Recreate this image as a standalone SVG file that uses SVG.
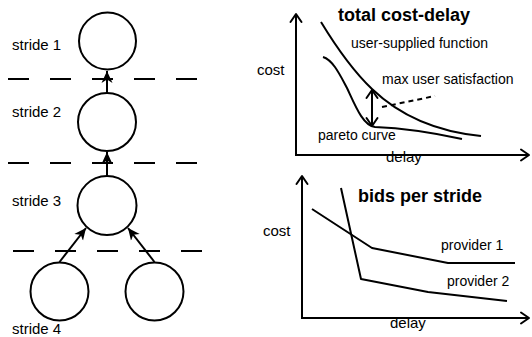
<svg xmlns="http://www.w3.org/2000/svg" width="532" height="337" viewBox="0 0 532 337">
  <style>
    text { font-family: "Liberation Sans", Arial, sans-serif; fill: #000; }
    .lbl { font-size: 15px; }
    .small { font-size: 14px; }
    .title { font-size: 18px; font-weight: bold; }
    .node { fill: #fff; stroke: #000; stroke-width: 2; }
    .edge { fill: none; stroke: #000; stroke-width: 2; }
    .divider { fill: none; stroke: #000; stroke-width: 2; stroke-dasharray: 21 21; }
    .axis { fill: none; stroke: #000; stroke-width: 2; }
    .curve { fill: none; stroke: #000; stroke-width: 2; stroke-linejoin: round; }
    .open { fill: none; stroke: #000; stroke-width: 2; stroke-linecap: round; stroke-linejoin: round; }
  </style>
  <defs>
    <marker id="solid" viewBox="-12 -6 13 12" refX="0" refY="0" markerWidth="13" markerHeight="12" markerUnits="userSpaceOnUse" orient="auto">
      <path d="M0,0 L-12,-5.5 L-8.5,0 L-12,5.5 Z" fill="#000"/>
    </marker>
    <marker id="vee" viewBox="-10 -7 12 14" refX="0" refY="0" markerWidth="12" markerHeight="14" markerUnits="userSpaceOnUse" orient="auto">
      <path d="M-8,-5.5 L0,0 L-8,5.5" fill="none" stroke="#000" stroke-width="2" stroke-linecap="round" stroke-linejoin="round"/>
    </marker>
    <marker id="vee-start" viewBox="-10 -7 12 14" refX="0" refY="0" markerWidth="12" markerHeight="14" markerUnits="userSpaceOnUse" orient="auto-start-reverse">
      <path d="M-8,-5.5 L0,0 L-8,5.5" fill="none" stroke="#000" stroke-width="2" stroke-linecap="round" stroke-linejoin="round"/>
    </marker>
  </defs>

  <!-- stride boundaries -->
  <g id="dividers">
    <line class="divider" x1="8" y1="79" x2="198" y2="79"/>
    <line class="divider" x1="8" y1="163" x2="198" y2="163"/>
    <line class="divider" x1="13" y1="251" x2="203" y2="251"/>
  </g>

  <!-- stride labels -->
  <g id="stride-labels" class="lbl">
    <text x="12" y="50">stride 1</text>
    <text x="12" y="117">stride 2</text>
    <text x="12" y="206">stride 3</text>
    <text x="12" y="334">stride 4</text>
  </g>

  <!-- connectors between task nodes -->
  <g id="connectors">
    <line class="edge" x1="107" y1="93" x2="107" y2="71" marker-end="url(#solid)"/>
    <line class="edge" x1="107" y1="176" x2="107" y2="152" marker-end="url(#solid)"/>
    <line class="edge" x1="59.5" y1="262" x2="86" y2="228" marker-end="url(#solid)"/>
    <line class="edge" x1="154.5" y1="262" x2="128" y2="228" marker-end="url(#solid)"/>
  </g>

  <!-- task nodes -->
  <g id="node-s1"><circle class="node" cx="107.5" cy="41" r="28.5"/></g>
  <g id="node-s2"><circle class="node" cx="107" cy="122" r="29"/></g>
  <g id="node-s3"><circle class="node" cx="107" cy="205.5" r="29.5"/></g>
  <g id="node-s4a"><circle class="node" cx="59.5" cy="291.5" r="29"/></g>
  <g id="node-s4b"><circle class="node" cx="154.5" cy="291.5" r="29"/></g>

  <!-- chart: total cost-delay -->
  <g id="chart-total">
    <line class="axis" x1="296" y1="156" x2="296" y2="14" marker-end="url(#vee)"/>
    <line class="axis" x1="295" y1="155" x2="529" y2="155" marker-end="url(#vee)"/>
    <text class="title" x="338" y="21">total cost-delay</text>
    <text class="lbl" x="257" y="75">cost</text>
    <text class="lbl" x="386" y="162">delay</text>
    <text class="small" x="351" y="48">user-supplied function</text>
    <text class="small" x="382" y="84">max user satisfaction</text>
    <text class="small" x="318" y="140">pareto curve</text>
    <!-- user-supplied function -->
    <path class="curve" d="M321,22 C335,45 352,70 372,89 C395,111 430,131 481,136"/>
    <!-- pareto curve -->
    <path class="curve" d="M323,57 C333,60 340,75 347,88 C355,105 363,126 375,127 C400,128 430,132 462,139"/>
    <!-- gap between the curves -->
    <line class="open" x1="372" y1="90" x2="372" y2="126" marker-start="url(#vee-start)" marker-end="url(#vee)"/>
    <line x1="382" y1="107" x2="435" y2="96" stroke="#000" stroke-width="2" stroke-dasharray="5 4"/>
  </g>

  <!-- chart: bids per stride -->
  <g id="chart-bids">
    <line class="axis" x1="302" y1="318" x2="302" y2="176" marker-end="url(#vee)"/>
    <line class="axis" x1="301" y1="318" x2="529" y2="318" marker-end="url(#vee)"/>
    <text class="title" x="358" y="202">bids per stride</text>
    <text class="lbl" x="263" y="236">cost</text>
    <text class="lbl" x="390" y="328">delay</text>
    <text class="small" x="441" y="250">provider 1</text>
    <text class="small" x="447" y="286">provider 2</text>
    <polyline class="curve" points="312,209 372,248 448,263 515,263"/>
    <polyline class="curve" points="341,188 361,279 428,292 507,301"/>
  </g>
</svg>
